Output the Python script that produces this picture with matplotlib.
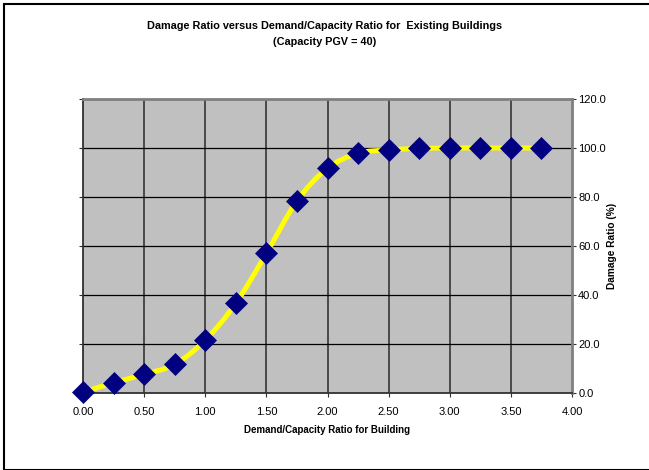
import matplotlib
matplotlib.use("Agg")
import matplotlib.pyplot as plt
from matplotlib.path import Path
from matplotlib.patches import PathPatch, Rectangle

plt.rcParams['font.family'] = ['Liberation Sans', 'DejaVu Sans']

# Demand/capacity ratio and the resulting damage ratio (%)
dc_ratio = [0.00, 0.25, 0.50, 0.75, 1.00, 1.25, 1.50, 1.75, 2.00,
            2.25, 2.50, 2.75, 3.00, 3.25, 3.50, 3.75]
damage_pct = [0.3, 4.2, 7.6, 11.7, 21.6, 36.6, 57.0, 78.4, 91.7,
              97.8, 99.2, 99.8, 100.0, 100.0, 100.0, 100.0]

x_ticks = [0.0, 0.5, 1.0, 1.5, 2.0, 2.5, 3.0, 3.5, 4.0]
y_ticks = [0, 20, 40, 60, 80, 100, 120]

title = "Damage Ratio versus Demand/Capacity Ratio for  Existing Buildings\n(Capacity PGV = 40)"
x_label = "Demand/Capacity Ratio for Building"
y_label = "Damage Ratio (%)"

fig = plt.figure(figsize=(6.49, 4.70), dpi=100)
fig.patch.set_facecolor('white')

# outer chart frame (right edge runs past the canvas)
fig.add_artist(Rectangle((3.5 / 649, 1 - 469.5 / 470), 1.2, (469.5 - 3.5) / 470,
                         transform=fig.transFigure, fill=False,
                         edgecolor='black', linewidth=1.5, clip_on=False))

ax = fig.add_axes([83 / 649, 1 - 393 / 470, (572 - 83) / 649, (393 - 99) / 470])
ax.set_facecolor('#C0C0C0')
ax.set_xlim(0, 4)
ax.set_ylim(0, 120)
ax.set_xticks(x_ticks)
ax.set_yticks(y_ticks)
ax.set_xticklabels([f"{v:.2f}" for v in x_ticks], fontsize=8)
ax.set_yticklabels([f"{v:.1f}" for v in y_ticks], fontsize=8)

# gridlines
for xv in x_ticks[1:-1]:
    ax.axvline(xv, color='#404040', linewidth=1.3, zorder=1)
for yv in y_ticks[1:-1]:
    ax.axhline(yv, color='black', linewidth=0.9, zorder=1)

for side in ['top', 'right']:
    ax.spines[side].set_color('#808080')
    ax.spines[side].set_linewidth(2.0)
for side in ['left', 'bottom']:
    ax.spines[side].set_color('#303030')
    ax.spines[side].set_linewidth(1.3)

ax.yaxis.tick_right()
ax.yaxis.set_label_position('right')
ax.tick_params(axis='y', which='both', left=True, right=True, length=3,
               width=0.8, color='#303030', pad=1.5, labelleft=False, labelright=True)
ax.tick_params(axis='x', length=3, width=0.8, color='#303030', pad=7)

# smoothed line through the points (cubic Bezier segments, Catmull-Rom style)
n = len(dc_ratio)
pts = list(zip(dc_ratio, damage_pct))
verts = [pts[0]]
codes = [Path.MOVETO]
for i in range(n - 1):
    p0 = pts[i - 1] if i > 0 else pts[i]
    p1 = pts[i]
    p2 = pts[i + 1]
    p3 = pts[i + 2] if i + 2 < n else pts[i + 1]
    c1 = (p1[0] + (p2[0] - p0[0]) / 6, p1[1] + (p2[1] - p0[1]) / 6)
    c2 = (p2[0] - (p3[0] - p1[0]) / 6, p2[1] - (p3[1] - p1[1]) / 6)
    verts += [c1, c2, p2]
    codes += [Path.CURVE4] * 3
ax.add_patch(PathPatch(Path(verts, codes), fill=False, edgecolor='#FFFF00',
                       linewidth=3.6, capstyle='round', zorder=3, clip_on=False))

ax.plot(dc_ratio, damage_pct, linestyle='none', marker='D', markersize=11,
        markerfacecolor='#000080', markeredgecolor='#000080', markeredgewidth=0.5,
        zorder=4, clip_on=False)

ax.set_xlabel(x_label, fontsize=7.0, fontweight='bold', labelpad=6)
ax.set_ylabel(y_label, fontsize=7.3, fontweight='bold', labelpad=1)

fig.text(0.5, 1 - 34 / 470, title, ha='center', va='center', fontsize=7.8,
         fontweight='bold', linespacing=1.75)

fig.savefig('out.png', dpi=100, facecolor='white')
